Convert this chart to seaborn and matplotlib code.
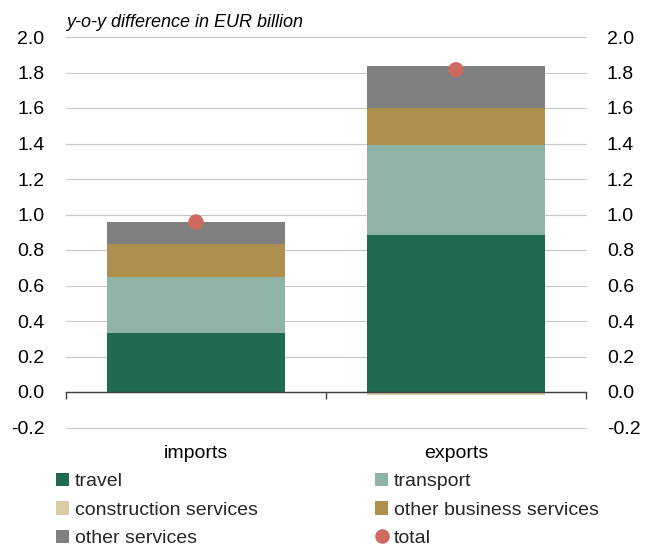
import numpy as np
import pandas as pd
import matplotlib
matplotlib.use("Agg")
import matplotlib.pyplot as plt
import seaborn as sns
from matplotlib.patches import Patch
from matplotlib.lines import Line2D

# Year-on-year change in services trade, EUR billion
categories = ["imports", "exports"]
travel = [0.335, 0.885]
transport = [0.315, 0.505]
construction = [0.0, -0.015]
other_business = [0.185, 0.21]
other_services = [0.123, 0.234]
total = [0.958, 1.816]

y_ticks = [-0.2, 0.0, 0.2, 0.4, 0.6, 0.8, 1.0, 1.2, 1.4, 1.6, 1.8, 2.0]

sns.set_theme(style="white")
plt.rcParams["font.family"] = ["Liberation Sans", "DejaVu Sans"]

colors = {
    "travel": "#1F6A50",
    "transport": "#8FB4A6",
    "construction services": "#D9CBA6",
    "other business services": "#AE904E",
    "other services": "#808080",
    "total": "#CD695D",
}

df = pd.DataFrame({
    "category": categories,
    "travel": travel,
    "transport": transport,
    "construction services": construction,
    "other business services": other_business,
    "other services": other_services,
    "total": total,
})

# positive components stacked by drawing cumulative sums, tallest first
stack = ["travel", "transport", "other business services", "other services"]
cum = df[stack].cumsum(axis=1)

fig = plt.figure(figsize=(6.54, 5.49), dpi=100)
ax = fig.add_axes([66 / 654, 1 - 427.5 / 549, 520 / 654, 390.5 / 549])

bar_w = 0.687
for name in reversed(stack):
    sns.barplot(x=df["category"], y=cum[name], order=categories, color=colors[name],
                width=bar_w, saturation=1, linewidth=0, ax=ax, zorder=2)
sns.barplot(x=df["category"], y=df["construction services"], order=categories,
            color=colors["construction services"], width=bar_w, saturation=1,
            linewidth=0, ax=ax, zorder=2)
sns.scatterplot(x=df["category"], y=df["total"], color=colors["total"], s=120,
                edgecolor="none", ax=ax, zorder=4)

ax.set_xlim(-0.5, 1.5)
ax.set_ylim(-0.2, 2.0)
ax.set_yticks(y_ticks)
ax.set_yticklabels([f"{v:.1f}" for v in y_ticks])
ax.set_xlabel("")
ax.set_ylabel("")
ax.set_axisbelow(True)
ax.yaxis.grid(True, color="#C8C8C8", linewidth=0.9)
ax.xaxis.grid(False)
for gl in ax.get_ygridlines():
    gl.set_clip_on(False)

for s in ["top", "right", "left"]:
    ax.spines[s].set_visible(False)
ax.spines["bottom"].set_position(("data", 0))
ax.spines["bottom"].set_color("#404040")
ax.spines["bottom"].set_linewidth(1.0)
ax.spines["bottom"].set_zorder(3)

ax.set_xticks([0, 1])
ax.set_xticklabels(categories)
ax.set_xticks([-0.5, 0.5, 1.5], minor=True)
ax.tick_params(axis="x", which="major", length=0, pad=38.5, labelsize=14, colors="black")
ax.tick_params(axis="x", which="minor", length=5, width=1.0, direction="out",
               color="#404040", bottom=True)
ax.tick_params(axis="y", length=0, pad=15.5, labelsize=14, labelcolor="black")

ax2 = ax.twinx()
ax2.set_ylim(-0.2, 2.0)
ax2.set_yticks(y_ticks)
ax2.set_yticklabels([f"{v:.1f}" for v in y_ticks])
ax2.tick_params(axis="y", length=0, pad=15, labelsize=14, labelcolor="black")
ax2.grid(False)
for s in ax2.spines.values():
    s.set_visible(False)

fig.text(66 / 654, 1 - 27 / 549, "y-o-y difference in EUR billion", style="italic",
         fontsize=13, va="baseline", ha="left", color="black")

def patch(name):
    return Patch(facecolor=colors[name], edgecolor="none", label=name)

left_handles = [patch("travel"), patch("construction services"), patch("other services")]
right_handles = [patch("transport"), patch("other business services"),
                 Line2D([], [], marker="o", linestyle="none", markersize=10.5,
                        markerfacecolor=colors["total"], markeredgecolor="none",
                        label="total")]

leg_kw = dict(frameon=False, fontsize=14, handlelength=0.67, handleheight=0.67,
              handletextpad=0.31, labelspacing=0.56, borderpad=0, borderaxespad=0,
              loc="upper left")
leg1 = fig.legend(handles=left_handles, bbox_to_anchor=(56 / 654, 1 - 473 / 549), **leg_kw)
leg2 = fig.legend(handles=right_handles, bbox_to_anchor=(375 / 654, 1 - 473 / 549), **leg_kw)

fig.savefig("out.png", dpi=100)
